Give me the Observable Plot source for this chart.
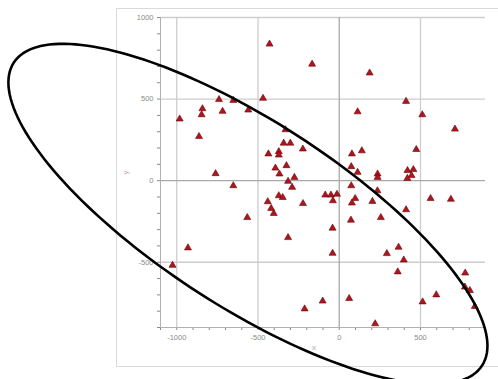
<!DOCTYPE html>
<html><head><meta charset="utf-8">
<script src="https://cdn.jsdelivr.net/npm/d3@7"></script>
<script src="https://cdn.jsdelivr.net/npm/@observablehq/plot@0.6"></script>
<style>
html,body{margin:0;padding:0;background:#fff;overflow:hidden;}
#wrap{position:relative;width:498px;height:379px;overflow:hidden;background:#fff;}
#frame{position:absolute;left:116px;top:8px;width:420px;height:357px;border:1px solid #dadada;}
#chart{position:absolute;left:0;top:0;}
</style></head><body>
<div id="wrap"><div id="frame"></div><div id="chart"></div></div>
<script>
// Scatter values
const pointX = [-429,-167,187,-740,-652,-469,411,-560,-842,-847,
  -718,-982,113,511,712,-863,-331,-342,-301,-224,
  -436,-372,-372,78,139,474,-325,-393,-368,-761,
  74,113,236,236,420,456,445,419,-276,-315,
  -290,-652,74,235,-86,-51,-14,-372,-348,-39,
  -223,98,78,204,562,687,-440,-419,-403,-566,
  411,72,256,-315,-41,-931,-41,293,365,397,
  -1026,360,775,773,804,597,513,834,61,-102,
  -213,221];
const pointY = [837,714,660,497,492,505,486,433,441,404,
  425,378,422,404,316,271,312,230,230,194,
  164,178,157,164,183,191,92,77,41,43,
  86,51,41,20,62,68,31,14,20,-4,
  -41,-31,-31,-62,-88,-88,-83,-92,-103,-123,
  -140,-109,-137,-127,-109,-114,-129,-170,-201,-226,
  -178,-242,-226,-349,-291,-412,-445,-447,-408,-486,
  -519,-559,-566,-652,-673,-700,-743,-771,-722,-738,
  -786,-877];

const xDomain = [-1100, 900];
const yDomain = [-900, 1000];
const xTicks = d3.range(-1100, 901, 100);
const yTicks = d3.range(-900, 1001, 100);
const xTickLabels = [-1000, -500, 0, 500];
const yTickLabels = [-500, 0, 500, 1000];
const gridX = [-1000, -500, 0, 500];
const gridY = [-500, 0, 500, 1000];
const xAxisLabel = "x";
const yAxisLabel = "y";

// Annotation ellipse (in data units): centre, horizontal half-span, tilt, vertical half-height
const ellipseCenter = [-562, -205];
const ellipseHalfSpan = 1474;
const ellipseTilt = -807;
const ellipseHalfHeight = 662;

const points = pointX.map((x, i) => ({x, y: pointY[i]}));
const ellipse = d3.range(0, 361, 2).map(deg => {
  const t = deg * Math.PI / 180;
  return {
    x: ellipseCenter[0] + ellipseHalfSpan * Math.cos(t),
    y: ellipseCenter[1] + ellipseTilt * Math.cos(t) + ellipseHalfHeight * Math.sin(t)
  };
});

const chart = Plot.plot({
  width: 498, height: 379,
  marginLeft: 160, marginRight: 13, marginTop: 17, marginBottom: 52,
  style: {background: "transparent", color: "#8a8a8a", fontFamily: "'Liberation Sans', Arial, sans-serif", fontSize: "7.5px"},
  x: {domain: xDomain, ticks: xTicks, tickFormat: d => xTickLabels.includes(d) ? String(d) : "", tickSize: 3, tickPadding: 4, label: null},
  y: {domain: yDomain, ticks: yTicks, tickFormat: d => yTickLabels.includes(d) ? String(d) : "", tickSize: 3, tickPadding: 4, label: null},
  marks: [
    Plot.ruleX(gridX.filter(d => d !== 0), {stroke: "#cdcdcd", strokeWidth: 1.3}),
    Plot.ruleY(gridY.filter(d => d !== 0), {stroke: "#cdcdcd", strokeWidth: 1.3}),
    Plot.ruleX(gridX.filter(d => d === 0), {stroke: "#a9a9a9", strokeWidth: 1.3}),
    Plot.ruleY(gridY.filter(d => d === 0), {stroke: "#a9a9a9", strokeWidth: 1.3}),
    Plot.ruleX([xDomain[0]], {stroke: "#b0b0b0"}),
    Plot.ruleY([yDomain[0]], {stroke: "#b0b0b0"}),
    Plot.dot(points, {x: "x", y: "y", symbol: "triangle", r: 2.6, fill: "#ac1620", stroke: "#6e0000", strokeWidth: 0.6}),
    Plot.text([xAxisLabel], {frameAnchor: "bottom", dy: 20, dx: -9, lineAnchor: "middle", textAnchor: "middle", fill: "#aaaaaa", fontSize: 8}),
    Plot.text([yAxisLabel], {frameAnchor: "left", dx: -35, rotate: -90, lineAnchor: "middle", textAnchor: "middle", fill: "#d4a0aa", fontSize: 8}),
    Plot.line(ellipse, {x: "x", y: "y", stroke: "#000", strokeWidth: 2.6, curve: "linear"})
  ]
});
document.getElementById("chart").appendChild(chart);
</script>
</body></html>
